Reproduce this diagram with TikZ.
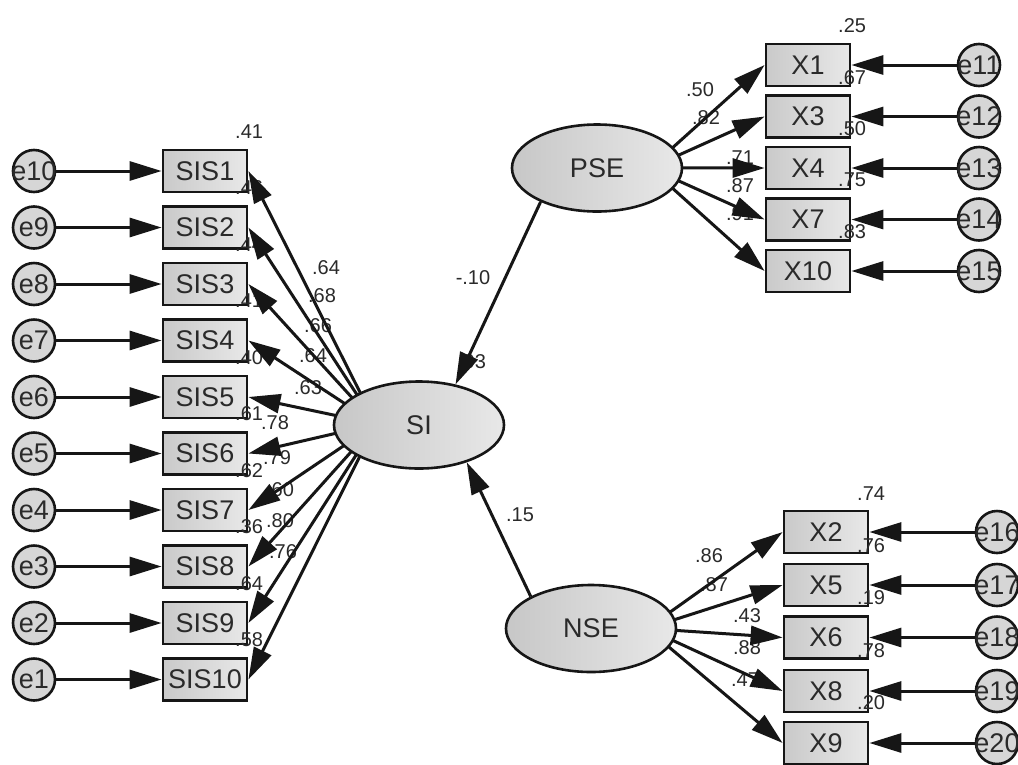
\documentclass[tikz,border=0pt]{standalone}
\usepackage{fontspec}
\setmainfont{Liberation Sans}
\usetikzlibrary{arrows.meta,shapes.geometric,intersections}
\definecolor{txt}{HTML}{2A2A2A}
\definecolor{ln}{HTML}{161616}
\begin{document}
\begin{tikzpicture}[x=1pt,y=-1pt,
  obs/.style={draw=ln,line width=2.8pt,rectangle,minimum width=84pt,minimum height=42pt,inner sep=0pt,
    left color=black!21,right color=black!9,text=txt,font=\fontsize{27}{30}\selectfont},
  lat/.style={draw=ln,line width=2.6pt,ellipse,minimum width=170pt,minimum height=87pt,inner sep=0pt,
    left color=black!22,right color=black!9,text=txt,font=\fontsize{27}{30}\selectfont},
  errtxt/.style={text=txt,font=\fontsize{27}{30}\selectfont,inner sep=0pt},
  err/.style={draw=ln,line width=2.6pt,circle,minimum size=42pt,inner sep=0pt,fill=black!16,
    label={[errtxt]center:#1}},
  arr/.style={draw=ln,line width=3pt,-{Triangle[length=32pt,width=19pt]}},
  lbl/.style={text=txt,font=\fontsize{20}{22}\selectfont,inner sep=0pt}]
\useasboundingbox (0,0) rectangle (1018,764);
\fill[white] (0,0) rectangle (1018,764);

% ---------- left block ----------
\foreach \i/\e/\y in {1/10/171,2/9/227.5,3/8/284,4/7/340.5,5/6/397,6/5/453.5,7/4/510,8/3/566.5,9/2/623,10/1/679.5}{
  \node[obs] (S\i) at (205,\y) {SIS\i};
  \node[err=e\e] (e\e) at (34,\y) {};
}
\node[lat] (SI) at (419,425) {SI};

% ---------- PSE block ----------
\node[lat] (PSE) at (597,168) {PSE};
\node[obs] (X1) at (808,65) {X1};
\node[obs] (X3) at (808,116.5) {X3};
\node[obs] (X4) at (808,168) {X4};
\node[obs] (X7) at (808,219.5) {X7};
\node[obs] (X10) at (808,271) {X10};
\node[err=e11] (e11) at (979,65) {};
\node[err=e12] (e12) at (979,116.5) {};
\node[err=e13] (e13) at (979,168) {};
\node[err=e14] (e14) at (979,219.5) {};
\node[err=e15] (e15) at (979,271) {};

% ---------- NSE block ----------
\node[lat] (NSE) at (591,628.5) {NSE};
\node[obs] (X2) at (826,532) {X2};
\node[obs] (X5) at (826,585) {X5};
\node[obs] (X6) at (826,637.5) {X6};
\node[obs] (X8) at (826,691) {X8};
\node[obs] (X9) at (826,743) {X9};
\node[err=e16] (e16) at (997,532) {};
\node[err=e17] (e17) at (997,585) {};
\node[err=e18] (e18) at (997,637.5) {};
\node[err=e19] (e19) at (997,691) {};
\node[err=e20] (e20) at (997,743) {};

% ---------- labels (under the arrows) ----------
\foreach \t/\b in {.41/138,.46/194.5,.44/251,.41/307.5,.40/364,.61/420.5,.62/477,.36/533.5,.64/590,.58/646.5}{
  \node[lbl,anchor=base west] at (235,\b) {\t};
}
\foreach \t/\x/\y in {.64/326/268,.68/322/296,.66/318/326,.64/313/356,.63/308/388,.78/275/423,.79/277/458,.60/280/490,.80/280/521,.76/283/552}{
  \node[lbl] at (\x,\y) {\t};
}
\node[lbl] (lPS) at (473,278) {-.10};
\node[lbl] (lSI) at (472,362) {.03};
\node[lbl] (lNS) at (520,515) {.15};

\foreach \t/\x/\y in {.50/700/90,.82/706/118,.71/740/158,.87/740/186,.91/740/214}{
  \node[lbl] at (\x,\y) {\t};
}
\foreach \t/\b in {.25/32,.67/84,.50/135,.75/186,.83/238}{
  \node[lbl,anchor=base west] at (838,\b) {\t};
}
\foreach \t/\x/\y in {.86/709/556,.87/714/585,.43/747/616,.88/747/648,.47/745/680}{
  \node[lbl] at (\x,\y) {\t};
}
\foreach \t/\b in {.74/500,.76/552,.19/604.5,.78/657,.20/709}{
  \node[lbl,anchor=base west] at (857,\b) {\t};
}

% ---------- borders of the latent ellipses and aiming points ----------
\path[name path=SIb] (SI.center) ellipse [x radius=85pt,y radius=43.5pt];
\path[name path=PSb] (PSE.center) ellipse [x radius=85pt,y radius=43.5pt];
\path[name path=NSb] (NSE.center) ellipse [x radius=85pt,y radius=43.5pt];
\coordinate (SIt) at (376,424);
\coordinate (PSt) at (650,168);
\coordinate (NSt) at (647,628.5);

% ---------- arrows ----------
\foreach \i/\e in {1/10,2/9,3/8,4/7,5/6,6/5,7/4,8/3,9/2,10/1}{
  \draw[arr] (e\e) -- (S\i.west);
  \path[name path=L\i] (S\i.east) -- (SIt);
  \draw[arr,name intersections={of=SIb and L\i,by=P\i}] (P\i) -- (S\i.east);
}
\foreach \x/\e in {X1/e11,X3/e12,X4/e13,X7/e14,X10/e15}{
  \path[name path=L\x] (\x.west) -- (PSt);
  \draw[arr,name intersections={of=PSb and L\x,by=P\x}] (P\x) -- (\x.west);
  \draw[arr] (\e) -- (\x.east);
}
\foreach \x/\e in {X2/e16,X5/e17,X6/e18,X8/e19,X9/e20}{
  \path[name path=L\x] (\x.west) -- (NSt);
  \draw[arr,name intersections={of=NSb and L\x,by=P\x}] (P\x) -- (\x.west);
  \draw[arr] (\e) -- (\x.east);
}
\draw[arr] (PSE.211) -- (SI.48);
\draw[arr] (NSE.152) -- (SI.322);
\end{tikzpicture}
\end{document}
